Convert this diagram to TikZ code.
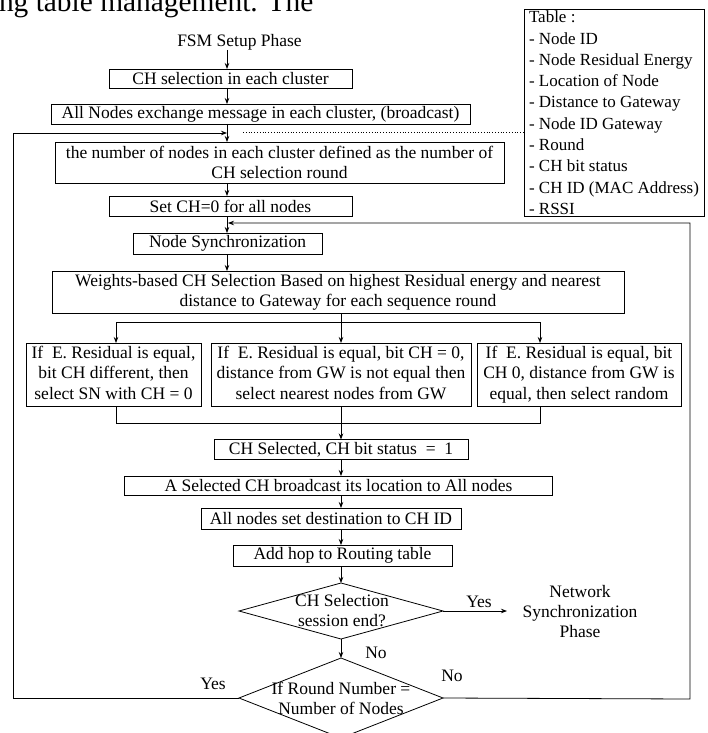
\documentclass[tikz,border=0pt]{standalone}
\usepackage{fontspec}
\setmainfont{Liberation Serif}
\usetikzlibrary{arrows.meta,shapes.geometric}
\begin{document}
\begin{tikzpicture}[x=1pt,y=-1pt,
  every node/.style={inner sep=0pt, outer sep=0pt},
  mfont/.style={font=\fontsize{17.5}{20}\selectfont},
  pbox/.style={draw, line width=0.8pt, mfont, align=center},
  tbox/.style={draw, line width=0.8pt, align=center, font=\fontsize{17.5}{20.5}\selectfont, minimum height=63},
  dia/.style={draw, line width=0.8pt, diamond, inner sep=0pt},
  conn/.style={line width=0.8pt},
  arr/.style={conn, -{Stealth[length=6pt,width=4.5pt]}},
  lbl/.style={mfont}]
\fill[white] (0,0) rectangle (707,733);
\useasboundingbox (0,0) rectangle (707,733);

\node[anchor=base west, font=\fontsize{29.4}{30}\selectfont] (top) at (-1,12) {ng table management. The};

\coordinate (c1) at (227,0);
\coordinate (c2) at (341,0);

\node[lbl] (fsm) at (239.5,42) {FSM Setup Phase};
\node[pbox, minimum width=243, minimum height=19] (b1) at (230.5,78.5) {CH selection in each cluster};
\node[pbox, minimum width=419, minimum height=20] (b2) at (260.5,114) {All Nodes exchange message in each cluster, (broadcast)};
\node[pbox, minimum width=449, minimum height=41] (b3) at (279.5,162.5) {the number of nodes in each cluster defined as the number of\\CH selection round};
\node[pbox, minimum width=243, minimum height=20] (b4) at (230.5,206) {Set CH=0 for all nodes};
\node[pbox, minimum width=189, minimum height=21] (b5) at (227.5,243.5) {Node Synchronization};
\node[pbox, minimum width=572, minimum height=42] (b6) at (338,292) {Weights-based CH Selection Based on highest Residual energy and nearest\\distance to Gateway for each sequence round};

\node[tbox, minimum width=175] (lb) at (113.5,374.5) {If~ E. Residual is equal,\\bit CH different, then\\select SN with CH = 0\vphantom{q}};
\node[tbox, minimum width=260] (mb) at (341,374.5) {If~ E. Residual is equal, bit CH = 0,\\distance from GW is not equal then\\select nearest nodes from GW\vphantom{q}};
\node[tbox, minimum width=204] (rb) at (579,374.5) {If~ E. Residual is equal, bit\\CH 0, distance from GW is\\equal, then select random};

\node[pbox, minimum width=254, minimum height=20] (b7) at (341,449.5) {CH Selected, CH bit status~ =~ 1};
\node[pbox, minimum width=428, minimum height=19] (b8) at (338.5,485.5) {A Selected CH broadcast its location to All nodes};
\node[pbox, minimum width=260, minimum height=21] (b9) at (331,518.5) {All nodes set destination to CH ID};
\node[pbox, minimum width=219, minimum height=21] (b10) at (342.5,555.5) {Add hop to Routing table};

\node[dia, minimum width=204, minimum height=56] (d1) at (341,611) {};
\node[lbl, align=center] (d1t) at (342,611) {CH Selection\\session end?};
\node[dia, minimum width=204, minimum height=80] (d2) at (341,698) {};
\node[lbl, align=center] (d2t) at (341,698) {If Round Number =\\Number of Nodes};

\node[lbl, align=center] (nsp) at (580,612) {Network\\Synchronization\\Phase};
\node[lbl] (yes1) at (479,602) {Yes};
\node[lbl] (no1) at (376,653) {No};
\node[lbl] (yes2) at (213,684) {Yes};
\node[lbl] (no2) at (452,676) {No};

\node[draw, line width=0.8pt, anchor=north west, align=left, inner xsep=5pt, inner ysep=2pt,
      font=\fontsize{17}{21.3}\selectfont] (tbl) at (524,9)
  {Table :\\- Node ID\\- Node Residual Energy\\- Location of Node\\- Distance to Gateway\\- Node ID Gateway\\- Round\\- CH bit status\\- CH ID (MAC Address)\\- RSSI};

% main column
\draw[arr] (fsm.south -| c1) -- (b1.north -| c1);
\draw[arr] (b1.south -| c1) -- (b2.north -| c1);
\draw[arr] (b2.south -| c1) -- (b3.north -| c1);
\draw[arr] (b3.south -| c1) -- (b4.north -| c1);
\draw[arr] (b4.south -| c1) -- (b5.north -| c1);
\draw[arr] (b5.south -| c1) -- (b6.north -| c1);

% split
\coordinate (sl) at (116,322);
\coordinate (sr) at (540,322);
\draw[conn] (sl) -- (sr);
\draw[arr] (b6.south -| c2) -- (mb.north -| c2);
\draw[arr] (sl) -- (sl |- lb.north);
\draw[arr] (sr) -- (sr |- rb.north);

% merge
\coordinate (ml) at (116,423);
\coordinate (mr) at (540,423);
\draw[conn] (ml |- lb.south) -- (ml) -- (mr) -- (mr |- rb.south);
\draw[arr] (mb.south -| c2) -- (b7.north -| c2);
\draw[arr] (b7.south -| c2) -- (b8.north -| c2);
\draw[arr] (b8.south -| c2) -- (b9.north -| c2);
\draw[arr] (b9.south -| c2) -- (b10.north -| c2);
\draw[arr] (b10.south -| c2) -- (d1.north);
\draw[arr] (d1.south) -- (d2.north);

% yes exit
\coordinate (ye) at (507,611);
\draw[arr] (d1.east) -- (ye);

% loops
\coordinate (lx1) at (13,698);
\coordinate (lx2) at (13,133);
\coordinate (lj) at (227,133);
\draw[arr] (d2.west) -- (lx1) -- (lx2) -- (lj);
\coordinate (rx1) at (690,699);
\coordinate (rx2) at (690,223);
\coordinate (rj) at (228,223);
\draw[arr] (d2.east) -- (rx1) -- (rx2) -- (rj);

% dotted link to table
\coordinate (ds) at (243,132);
\draw[conn, dotted] (ds) -- (ds -| tbl.west);
\end{tikzpicture}
\end{document}
